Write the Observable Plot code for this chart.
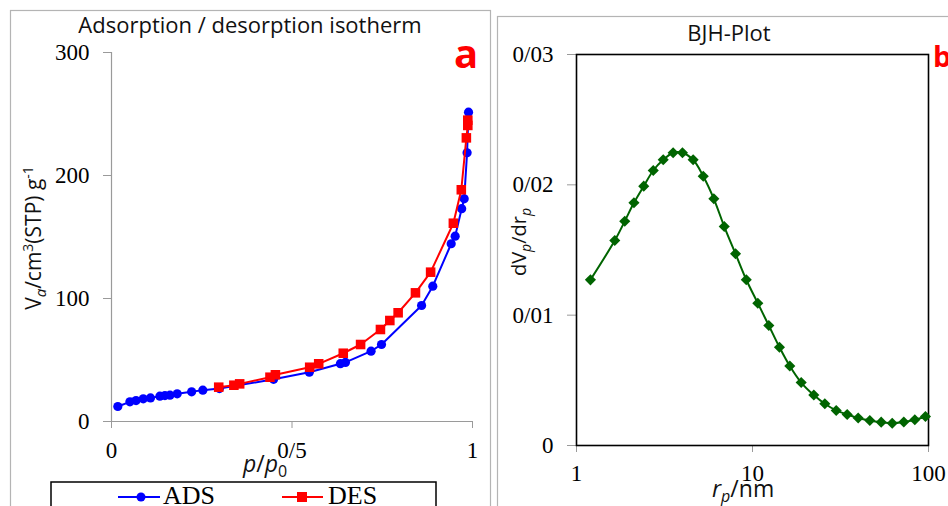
<!DOCTYPE html>
<html>
<head>
<meta charset="utf-8">
<script src="https://cdn.jsdelivr.net/npm/d3@7"></script>
<script src="https://cdn.jsdelivr.net/npm/@observablehq/plot@0.6"></script>
<style>
  html, body { margin: 0; padding: 0; background: #fff; }
  #wrap { position: relative; width: 948px; height: 506px; overflow: hidden; background: #fff; }
  #wrap > svg, #wrap > div { position: absolute; }
  #plotA { left: 0; top: 0; }
  #plotB { left: 490px; top: 0; }
  #overlay { left: 0; top: 0; pointer-events: none; }
  g[aria-label$="tick label"] { fill: #000; stroke: none; }
</style>
</head>
<body>
<div id="wrap">
  <div id="plotA"></div>
  <div id="plotB"></div>
  <svg id="overlay" width="948" height="506" xmlns="http://www.w3.org/2000/svg">
    <!-- panel frames -->
    <rect x="10.5" y="10.5" width="480" height="520" fill="none" stroke="#b4b4b4" stroke-width="1.2"/>
    <rect x="497.5" y="16.5" width="470" height="520" fill="none" stroke="#b4b4b4" stroke-width="1.2"/>
    <!-- titles -->
    <text x="250" y="33" text-anchor="middle" font-family="Open Sans" font-size="22" fill="#111">Adsorption / desorption isotherm</text>
    <text x="729" y="41" text-anchor="middle" font-family="Open Sans" font-size="22" fill="#111">BJH-Plot</text>
    <text x="454" y="68" font-family="Open Sans" font-weight="bold" font-size="40" fill="#ff0000">a</text>
    <text x="933" y="67" font-family="Open Sans" font-weight="bold" font-size="29" fill="#ff0000">b</text>
    <!-- axis titles panel a -->
    <text transform="translate(41,238) rotate(-90)" text-anchor="middle" font-family="Open Sans" font-size="21" fill="#111">V<tspan dy="5" font-size="15" font-style="italic">a</tspan><tspan dy="-5">/cm</tspan><tspan dy="-8" font-size="14">3</tspan><tspan dy="8">(STP) g</tspan><tspan dy="-8" font-size="14">-1</tspan></text>
    <text x="243" y="472" font-family="Open Sans" font-size="23" fill="#111"><tspan font-style="italic">p</tspan>/<tspan font-style="italic">p</tspan><tspan dy="5" font-size="16">0</tspan></text>
    <!-- axis titles panel b -->
    <text transform="translate(526,242) rotate(-90)" text-anchor="middle" font-family="Open Sans" font-size="20" fill="#111">dV<tspan dy="5" font-size="14" font-style="italic">p</tspan><tspan dy="-5">/dr</tspan><tspan dy="5" font-size="14" font-style="italic">p</tspan></text>
    <text x="712" y="497" font-family="Open Sans" font-size="23" fill="#111"><tspan font-style="italic">r</tspan><tspan dy="5" font-size="16" font-style="italic">p</tspan><tspan dy="-5">/nm</tspan></text>
    <!-- legend -->
    <rect x="51" y="482" width="385" height="40" fill="#fff" stroke="#000" stroke-width="1.5"/>
    <line x1="118" x2="160" y1="497" y2="497" stroke="#0000ff" stroke-width="2"/>
    <circle cx="141" cy="497" r="4.5" fill="#0000ff"/>
    <text x="163" y="504" font-family="Liberation Serif" font-size="26" fill="#000">ADS</text>
    <line x1="282" x2="323" y1="497" y2="497" stroke="#ff0000" stroke-width="2"/>
    <rect x="297" y="492" width="10" height="10" fill="#ff0000"/>
    <text x="328" y="504" font-family="Liberation Serif" font-size="26" fill="#000">DES</text>
  </svg>
</div>
<script>
// ---------- Panel a: adsorption / desorption isotherm ----------
const adsP = [0.0175, 0.051, 0.068, 0.088, 0.108, 0.134, 0.148, 0.162, 0.182, 0.222, 0.253, 0.299, 0.449, 0.548, 0.634, 0.648, 0.719, 0.748, 0.859, 0.890, 0.941, 0.952, 0.970, 0.977, 0.985, 0.989];
const adsV = [12.2, 16.0, 17.0, 18.4, 19.2, 20.6, 21.1, 21.4, 22.5, 24.1, 25.5, 26.8, 34.3, 40.1, 47.0, 48.0, 57.2, 62.6, 94.3, 110.0, 144.5, 150.7, 173.0, 181.0, 218.5, 251.5];
const desP = [0.297, 0.339, 0.355, 0.439, 0.454, 0.549, 0.574, 0.642, 0.690, 0.745, 0.771, 0.794, 0.842, 0.884, 0.947, 0.969, 0.983, 0.987, 0.987];
const desV = [27.9, 29.5, 30.6, 36.0, 38.0, 44.1, 46.9, 55.5, 62.6, 74.8, 82.1, 88.4, 104.6, 121.4, 161.2, 188.4, 230.6, 240.7, 245.0];
const xTicksA = [0, 0.5, 1];
const xTickLabelsA = ["0", "0/5", "1"];
const yTicksA = [0, 100, 200, 300];
const yTickLabelsA = ["0", "100", "200", "300"];

// ---------- Panel b: BJH plot ----------
const rp = [1.20, 1.65, 1.88, 2.12, 2.41, 2.73, 3.11, 3.54, 4.00, 4.60, 5.25, 6.03, 6.91, 8.01, 9.22, 10.72, 12.38, 14.23, 16.29, 18.91, 22.30, 25.76, 29.90, 34.51, 39.86, 46.40, 53.86, 62.21, 72.38, 83.6, 96.1];
const dvdr = [0.01271, 0.01573, 0.01721, 0.01862, 0.01990, 0.02110, 0.02192, 0.02246, 0.02246, 0.02192, 0.02066, 0.01893, 0.01680, 0.01471, 0.01272, 0.01092, 0.00921, 0.00754, 0.00610, 0.00483, 0.00387, 0.00320, 0.00269, 0.00238, 0.00211, 0.00192, 0.00179, 0.00171, 0.00180, 0.00197, 0.00223];
const xTicksB = [1, 10, 100];
const xTickLabelsB = ["1", "10", "100"];
const yTicksB = [0, 0.01, 0.02, 0.03];
const yTickLabelsB = ["0", "0/01", "0/02", "0/03"];

const ads = adsP.map((p, i) => ({p, v: adsV[i]}));
const des = desP.map((p, i) => ({p, v: desV[i]}));
const bjh = rp.map((r, i) => ({r, v: dvdr[i]}));

const fmt = (ticks, labels) => d => labels[ticks.indexOf(d)];

const plotA = Plot.plot({
  width: 490, height: 506,
  marginLeft: 111, marginRight: 18, marginTop: 52, marginBottom: 85,
  style: {fontFamily: "Liberation Serif", fontSize: "23px", background: "transparent", overflow: "visible", color: "#000"},
  x: {domain: [0, 1]},
  y: {domain: [0, 300]},
  marks: [
    Plot.ruleX([0], {stroke: "#9a9a9a", strokeWidth: 1.2}),
    Plot.ruleY([0], {stroke: "#9a9a9a", strokeWidth: 1.2}),
    Plot.axisY({ticks: yTicksA, tickFormat: fmt(yTicksA, yTickLabelsA), tickSize: 8, tickPadding: 14, stroke: "#9a9a9a", label: null, fontSize: 23, fontFamily: "Liberation Serif"}),
    Plot.axisX({ticks: xTicksA, tickFormat: fmt(xTicksA, xTickLabelsA), tickSize: 7, tickPadding: 13, stroke: "#9a9a9a", label: null, fontSize: 23, fontFamily: "Liberation Serif"}),
    Plot.line(ads, {x: "p", y: "v", stroke: "#0000ff", strokeWidth: 2}),
    Plot.dot(ads, {x: "p", y: "v", r: 4.6, fill: "#0000ff", symbol: "circle"}),
    Plot.line(des, {x: "p", y: "v", stroke: "#ff0000", strokeWidth: 2}),
    Plot.dot(des, {x: "p", y: "v", r: 5.4, fill: "#ff0000", symbol: "square"})
  ]
});
document.getElementById("plotA").appendChild(plotA);

const plotB = Plot.plot({
  width: 458, height: 506,
  marginLeft: 86, marginRight: 20, marginTop: 54, marginBottom: 61,
  style: {fontFamily: "Liberation Serif", fontSize: "23px", background: "transparent", overflow: "visible", color: "#000"},
  x: {type: "log", domain: [1, 100]},
  y: {domain: [0, 0.03]},
  marks: [
    Plot.axisY({ticks: yTicksB, tickFormat: fmt(yTicksB, yTickLabelsB), tickSize: 9, tickPadding: 14, stroke: "#9a9a9a", label: null, fontSize: 23, fontFamily: "Liberation Serif"}),
    Plot.axisX({ticks: xTicksB, tickFormat: fmt(xTicksB, xTickLabelsB), tickSize: 7, tickPadding: 12, stroke: "#9a9a9a", label: null, fontSize: 23, fontFamily: "Liberation Serif"}),
    Plot.frame({stroke: "#000", strokeWidth: 1.6}),
    Plot.line(bjh, {x: "r", y: "v", stroke: "#006400", strokeWidth: 2, curve: "catmull-rom"}),
    Plot.dot(bjh, {x: "r", y: "v", r: 5, fill: "#006400", symbol: "diamond2"})
  ]
});
document.getElementById("plotB").appendChild(plotB);
</script>
</body>
</html>
